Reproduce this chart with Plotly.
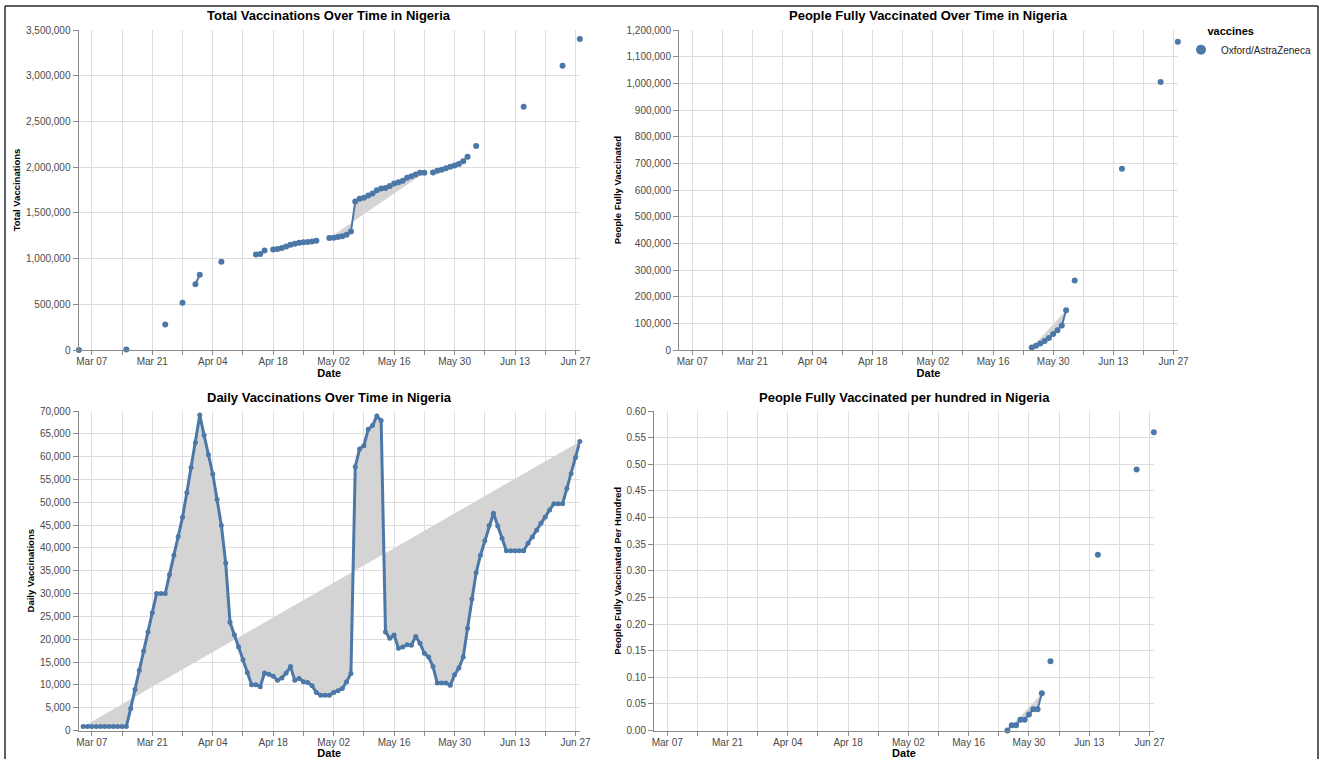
import pandas as pd
import plotly.graph_objects as go

# ---------------- data ----------------
total_dates = [
    "2021-03-04", "2021-03-15", "2021-03-24", "2021-03-28", "2021-03-31", "2021-04-01",
    "2021-04-06", "2021-04-14", "2021-04-15", "2021-04-16",
    "2021-04-18", "2021-04-19", "2021-04-20", "2021-04-21", "2021-04-22", "2021-04-23",
    "2021-04-24", "2021-04-25", "2021-04-26", "2021-04-27", "2021-04-28",
    "2021-05-01", "2021-05-02", "2021-05-03", "2021-05-04", "2021-05-05", "2021-05-06",
    "2021-05-07", "2021-05-08", "2021-05-09", "2021-05-10", "2021-05-11", "2021-05-12",
    "2021-05-13", "2021-05-14", "2021-05-15", "2021-05-16", "2021-05-17", "2021-05-18",
    "2021-05-19", "2021-05-20", "2021-05-21", "2021-05-22", "2021-05-23",
    "2021-05-25", "2021-05-26", "2021-05-27", "2021-05-28", "2021-05-29", "2021-05-30",
    "2021-05-31", "2021-06-01", "2021-06-02",
    "2021-06-04", "2021-06-15", "2021-06-24", "2021-06-28",
]
total_vaccinations = [
    0, 6000, 280000, 516000, 720000, 823000,
    966000, 1044000, 1051000, 1088000,
    1100000, 1104000, 1115000, 1133000, 1152000, 1163000,
    1174000, 1178000, 1181000, 1188000, 1196000,
    1225000, 1229000, 1236000, 1243000, 1261000, 1295000,
    1623000, 1653000, 1664000, 1689000, 1711000, 1748000,
    1766000, 1773000, 1795000, 1821000, 1835000, 1850000,
    1883000, 1901000, 1920000, 1938000, 1938000,
    1941000, 1960000, 1971000, 1989000, 2004000, 2018000,
    2035000, 2065000, 2115000,
    2230000, 2661000, 3110000, 3401000,
]

daily_start = "2021-03-05"
daily_vaccinations = [
    900, 900, 900, 900, 900, 900, 900, 900, 900, 900, 900,
    4800, 9000, 13200, 17400, 21600, 25800, 30000, 30000, 30000, 34200,
    38400, 42500, 46700, 52100, 57600, 63100,
    69100, 64700, 60400, 56200, 50600, 44900, 36700, 23700, 21000, 18300,
    15500, 12700, 10000, 10000, 9600, 12600, 12300, 11900, 11000, 11500,
    12600, 14000, 11000, 11400, 10700, 10500, 9800, 8300, 7700, 7700,
    7700, 8300, 8700, 9200, 10700, 12500, 57800, 61700, 62400, 66000,
    66800, 68900, 67900, 21600, 20200, 20900, 18000, 18300, 18800, 18700,
    20600, 19100, 16900, 16100, 14000, 10400, 10400, 10400, 9900, 12200, 13700,
    16100, 22400, 28800, 34600, 38400, 41600, 44900, 47600, 44800, 42100,
    39400, 39400, 39400, 39400, 39400, 41000, 42400, 43900, 45400, 46800,
    48300, 49700, 49700, 49700, 53000, 56300, 59800, 63300,
]

full_dates = [
    "2021-05-25", "2021-05-26", "2021-05-27", "2021-05-28", "2021-05-29", "2021-05-30",
    "2021-05-31", "2021-06-01", "2021-06-02", "2021-06-04", "2021-06-15", "2021-06-24",
    "2021-06-28",
]
people_fully_vaccinated = [
    9000, 16000, 24000, 34000, 45000, 60000, 74000, 92000, 149000,
    261000, 680000, 1005000, 1156000,
]
people_fully_vaccinated_per_hundred = [
    0.00, 0.01, 0.01, 0.02, 0.02, 0.03, 0.04, 0.04, 0.07,
    0.13, 0.33, 0.49, 0.56,
]

x_tick_labels = ["Mar 07", "Mar 21", "Apr 04", "Apr 18", "May 02",
                 "May 16", "May 30", "Jun 13", "Jun 27"]
vaccine_name = "Oxford/AstraZeneca"
legend_title = "vaccines"

# ---------------- build series on a continuous daily index (gaps -> NaN) ----------------
all_days = pd.date_range("2021-03-04", "2021-06-28", freq="D")


def on_days(dates, values):
    s = pd.Series(values, index=pd.to_datetime(dates), dtype="float64")
    return s.reindex(all_days)


s_total = on_days(total_dates, total_vaccinations)
s_daily = pd.Series(daily_vaccinations,
                    index=pd.date_range(daily_start, periods=len(daily_vaccinations), freq="D"),
                    dtype="float64").reindex(all_days)
s_full = on_days(full_dates, people_fully_vaccinated)
s_hund = on_days(full_dates, people_fully_vaccinated_per_hundred)

# ---------------- styling ----------------
W, H = 1321, 759
BLUE = "#4c78a8"
FILL = "#d4d4d4"
GRID = "#dedede"
AXIS = "#8a8a8a"
FONT = "Liberation Sans, Arial, sans-serif"
TICKC = "#4a4a4a"

tick_dates = pd.date_range("2021-03-07", "2021-06-27", freq="7D")
tick_text = []
for i in range(len(tick_dates)):
    tick_text.append(x_tick_labels[i // 2] if i % 2 == 0 else "")

x_range = ["2021-03-03 22:00", "2021-06-28 01:00"]


def px_x(a, b):
    return [a / W, b / W]


def px_y(top, bottom):
    return [1 - bottom / H, 1 - top / H]


panels = [
    # (series, domain x, domain y, title, y title, dtick, ymax, tickformat, line w, marker size)
    (s_total, px_x(78.5, 580), px_y(30, 350), "Total Vaccinations Over Time in Nigeria",
     "Total Vaccinations", 500000, 3500000, ",", 2, 6),
    (s_full, px_x(679, 1178), px_y(30, 350), "People Fully Vaccinated Over Time in Nigeria",
     "People Fully Vaccinated", 100000, 1200000, ",", 2, 6),
    (s_daily, px_x(78.5, 580), px_y(411, 730.5), "Daily Vaccinations Over Time in Nigeria",
     "Daily Vaccinations", 5000, 70000, ",", 3, 5),
    (s_hund, px_x(654, 1154), px_y(411, 730.5), "People Fully Vaccinated per hundred in Nigeria",
     "People Fully Vaccinated Per Hundred", 0.05, 0.6, ".2f", 2, 6),
]

fig = go.Figure()
annotations = []
layout_axes = {}

for i, (s, dx, dy, title, ytitle, dtick, ymax, tfmt, lw, ms) in enumerate(panels, start=1):
    xa = "x" if i == 1 else f"x{i}"
    ya = "y" if i == 1 else f"y{i}"
    fig.add_trace(go.Scatter(
        x=s.index, y=s.values, mode="lines+markers",
        line=dict(color=BLUE, width=lw),
        marker=dict(color=BLUE, size=ms),
        fill="toself", fillcolor=FILL,
        connectgaps=False, cliponaxis=False,
        showlegend=False, hoverinfo="x+y",
        xaxis=xa, yaxis=ya,
    ))
    xkey = "xaxis" if i == 1 else f"xaxis{i}"
    ykey = "yaxis" if i == 1 else f"yaxis{i}"
    layout_axes[xkey] = dict(
        domain=dx, anchor=ya, type="date", range=x_range,
        tickmode="array", tickvals=tick_dates, ticktext=tick_text,
        showgrid=True, gridcolor=GRID, gridwidth=1,
        showline=True, linecolor=AXIS, linewidth=1,
        ticks="outside", ticklen=4, tickcolor=AXIS, ticklabelstandoff=-2,
        tickfont=dict(family=FONT, size=10, color=TICKC),
        title=dict(text="Date", font=dict(family=FONT, size=11, color="#000", weight="bold"),
                   standoff=2),
        zeroline=False, fixedrange=True, automargin=False,
    )
    layout_axes[ykey] = dict(
        domain=dy, anchor=xa, range=[0, ymax], dtick=dtick, tick0=0,
        tickformat=tfmt,
        showgrid=True, gridcolor=GRID, gridwidth=1,
        showline=True, linecolor=AXIS, linewidth=1,
        ticks="outside", ticklen=5, tickcolor=AXIS,
        tickfont=dict(family=FONT, size=10, color=TICKC),
        title=dict(text=ytitle, font=dict(family=FONT, size=9.5, color="#000", weight="bold"),
                   standoff=3),
        zeroline=False, fixedrange=True, automargin=False,
    )
    title_y_px = 16 if i <= 2 else 397
    annotations.append(dict(
        text=title, xref="paper", yref="paper",
        x=(dx[0] + dx[1]) / 2, y=1 - title_y_px / H,
        xanchor="center", yanchor="middle", showarrow=False,
        font=dict(family=FONT, size=13, color="#000", weight="bold"),
    ))

# legend entry
fig.add_trace(go.Scatter(
    x=[None], y=[None], mode="markers", name=vaccine_name,
    marker=dict(color=BLUE, size=10), xaxis="x2", yaxis="y2", showlegend=True,
))

# outer frame of the screenshot
frame = dict(type="line", xref="paper", yref="paper", line=dict(color="#2a2a2a", width=1.5))
shapes = [
    dict(frame, x0=5 / W, x1=5 / W, y0=0, y1=1 - 6 / H),
    dict(frame, x0=5 / W, x1=1318 / W, y0=1 - 6 / H, y1=1 - 6 / H),
    dict(frame, x0=1318 / W, x1=1318 / W, y0=0, y1=1 - 6 / H),
]

fig.update_layout(
    autosize=True,
    margin=dict(l=0, r=0, t=0, b=0, pad=0),
    paper_bgcolor="white", plot_bgcolor="white",
    font=dict(family=FONT, size=10, color="#000"),
    annotations=annotations,
    shapes=shapes,
    legend=dict(
        x=1181 / W, y=1 - 21 / H, xanchor="left", yanchor="top",
        title=dict(text="\u00a0" * 8 + legend_title,
                   font=dict(family=FONT, size=11, color="#000", weight="bold")),
        font=dict(family=FONT, size=10, color="#222"),
        bgcolor="rgba(0,0,0,0)", itemsizing="trace",
        tracegroupgap=0,
    ),
    **layout_axes,
)

# the plot div is pinned to the page's top-left corner, sized like the window
fig.write_html(
    "out.html",
    config={"displayModeBar": False},
    default_width=f"{W}px",
    default_height=f"{H}px;position:absolute;left:0;top:0",
)
